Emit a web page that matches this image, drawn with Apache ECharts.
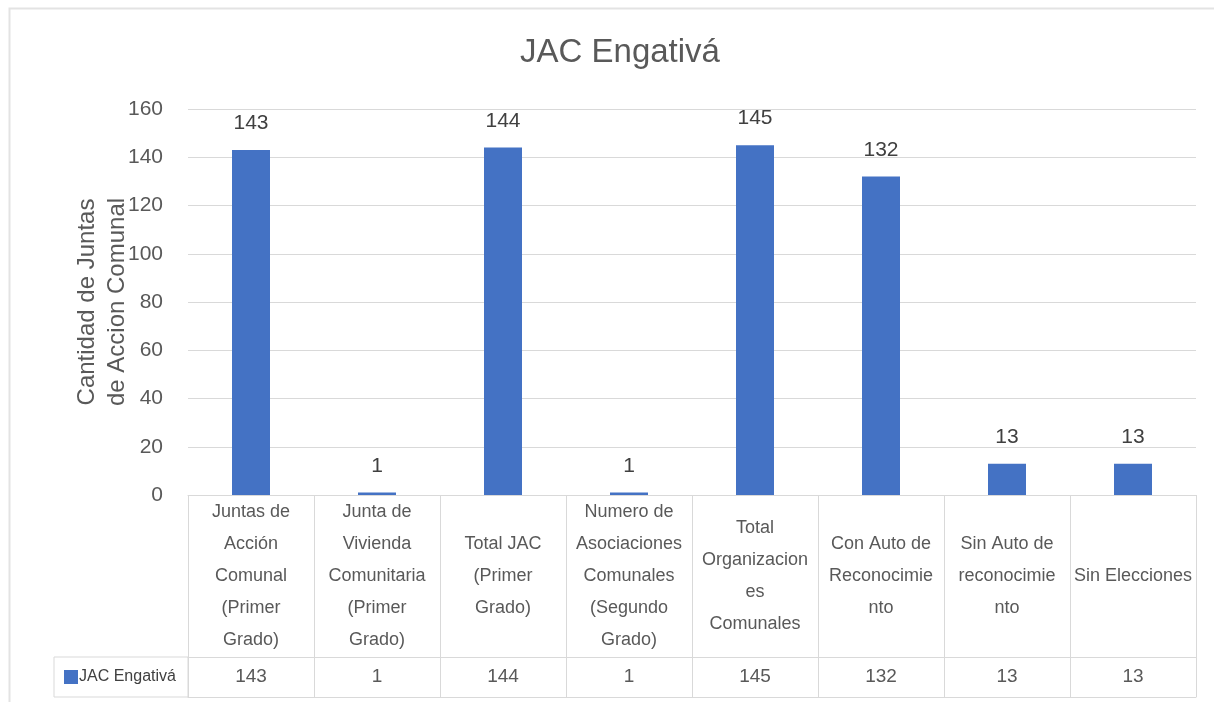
<!DOCTYPE html>
<html>
<head>
<meta charset="utf-8">
<script src="https://cdn.jsdelivr.net/npm/echarts@6/dist/echarts.min.js"></script>
<style>html,body{margin:0;padding:0;background:#fff}#c{width:1214px;height:702px}</style>
</head>
<body>
<div id="c"></div>
<script>
const titleText = 'JAC Engativá';
const seriesName = 'JAC Engativá';
const categories = [
  'Juntas de\nAcción\nComunal\n(Primer\nGrado)',
  'Junta de\nVivienda\nComunitaria\n(Primer\nGrado)',
  'Total JAC\n(Primer\nGrado)',
  'Numero de\nAsociaciones\nComunales\n(Segundo\nGrado)',
  'Total\nOrganizacion\nes\nComunales',
  'Con Auto de\nReconocimie\nnto',
  'Sin Auto de\nreconocimie\nnto',
  'Sin Elecciones'
];
const values = [143, 1, 144, 1, 145, 132, 13, 13];
const yTicks = { min: 0, max: 160, interval: 20 };
const yAxisTitle = 'Cantidad de Juntas\nde Accion Comunal';

const LINE = '#d9d9d9';
const TXT = '#595959';
const FONT = 'Liberation Sans';
const chart = echarts.init(document.getElementById('c'));
chart.setOption({
  animation: false,
  backgroundColor: '#fff',
  title: {
    text: titleText, left: 615, top: 31, textAlign: 'center',
    textStyle: { fontFamily: FONT, fontSize: 33, fontWeight: 'normal', color: TXT }
  },
  legend: {
    data: [seriesName], left: 54, top: 657, orient: 'horizontal',
    icon: 'rect', itemWidth: 14, itemHeight: 14, itemGap: 0,
    borderColor: LINE, borderWidth: 1, padding: [10, 4, 10, 10],
    textStyle: { fontFamily: FONT, fontSize: 16, lineHeight: 20, color: '#404040', width: 105, overflow: 'none', padding: [0, 0, 0, -4] }
  },
  graphic: [{
    type: 'rect', left: 7, top: 6, shape: { width: 1300, height: 800 },
    style: { fill: 'none', stroke: '#e3e3e3', lineWidth: 2 }, silent: true
  }],
  grid: { left: 188, right: 18, top: 109, bottom: 207, containLabel: false },
  xAxis: [
    {
      type: 'category', data: categories, position: 'bottom',
      axisLine: { show: true, lineStyle: { color: LINE } },
      axisTick: { show: true, length: 202, lineStyle: { color: LINE } },
      axisLabel: {
        interval: 0, margin: 81, verticalAlign: 'middle', lineHeight: 32,
        fontFamily: FONT, fontSize: 18, color: TXT
      },
      splitLine: { show: false }
    },
    {
      type: 'category', data: categories, position: 'bottom', offset: 162,
      axisLine: { show: true, lineStyle: { color: LINE } },
      axisTick: { show: false },
      axisLabel: {
        interval: 0, margin: 20, verticalAlign: 'middle',
        fontFamily: FONT, fontSize: 19, color: TXT,
        formatter: (v, i) => String(values[i])
      }
    },
    {
      type: 'category', data: categories, position: 'bottom', offset: 202,
      axisLine: { show: true, lineStyle: { color: LINE } },
      axisTick: { show: false }, axisLabel: { show: false }
    }
  ],
  yAxis: {
    type: 'value', min: yTicks.min, max: yTicks.max, interval: yTicks.interval,
    axisLine: { show: false }, axisTick: { show: false },
    splitLine: { lineStyle: { color: LINE } },
    axisLabel: { margin: 25, fontFamily: FONT, fontSize: 21, color: TXT },
    name: yAxisTitle, nameLocation: 'middle', nameRotate: 90, nameGap: 56,
    nameMoveOverlap: false,
    nameTextStyle: { fontFamily: FONT, fontSize: 24, color: TXT, lineHeight: 30 }
  },
  series: [{
    name: seriesName, type: 'bar', data: values, xAxisIndex: 0,
    barWidth: 38,
    itemStyle: { color: '#4472C4' },
    label: {
      show: true, position: 'top', distance: 16,
      fontFamily: FONT, fontSize: 21, color: '#404040'
    }
  }]
});
</script>
</body>
</html>
